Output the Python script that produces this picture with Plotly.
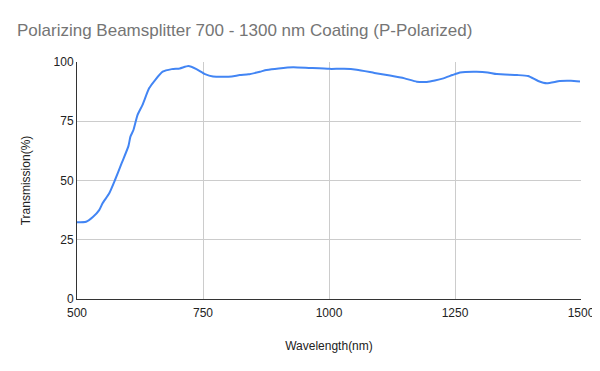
import plotly.graph_objects as go

wavelength = [500, 518, 532, 544, 551, 564, 575, 589, 602, 606, 612, 620, 630, 643, 655, 670, 688, 704, 721, 737, 754, 770, 790, 807, 823, 840, 863, 876, 900, 929, 960, 1001, 1030, 1055, 1090, 1121, 1150, 1174, 1194, 1210, 1227, 1245, 1260, 1293, 1315, 1333, 1373, 1395, 1415, 1432, 1458, 1480, 1498]
transmission = [32.4, 32.6, 34.7, 37.5, 40.5, 44.6, 50.0, 57.5, 64.5, 68.5, 71.3, 77.6, 81.9, 88.9, 92.4, 95.9, 97.0, 97.3, 98.3, 97.0, 94.9, 93.9, 93.8, 93.9, 94.5, 94.8, 95.9, 96.6, 97.3, 97.8, 97.5, 97.1, 97.1, 96.7, 95.4, 94.3, 93.1, 91.7, 91.6, 92.2, 93.1, 94.5, 95.6, 95.9, 95.6, 94.9, 94.5, 94.1, 92.0, 91.0, 92.0, 92.1, 91.8]

x_ticks = [500, 750, 1000, 1250, 1500]
y_ticks = [0, 25, 50, 75, 100]

fig = go.Figure()
fig.add_trace(go.Scatter(
    x=wavelength, y=transmission, mode="lines",
    line=dict(color="#4285F4", width=2, shape="spline", smoothing=0.5),
    showlegend=False, hoverinfo="x+y"))

# the page places the figure 8px in from the top-left corner, so the
# margins below already account for that offset
fig.update_layout(
    width=600, height=371,
    margin=dict(l=69, r=27, t=54, b=80),
    paper_bgcolor="white", plot_bgcolor="white",
    font=dict(family="Liberation Sans, Arial, sans-serif", color="#222222", size=12),
    title=dict(text="Polarizing Beamsplitter 700 - 1300 nm Coating (P-Polarized)",
               x=9/600, xanchor="left", y=1 - 22/371, yanchor="middle",
               font=dict(size=17, color="#757575")),
    xaxis=dict(range=[500, 1500], tickvals=x_ticks, ticktext=[str(v) for v in x_ticks],
               showgrid=True, gridcolor="#cccccc", gridwidth=1, automargin=False,
               showline=True, linecolor="#333333", linewidth=1, zeroline=False,
               ticks="", ticklabelstandoff=3, tickfont=dict(size=12, color="#222222"),
               title=dict(text="Wavelength(nm)", font=dict(size=12, color="#222222"), standoff=22)),
    yaxis=dict(range=[0, 100], tickvals=y_ticks, ticktext=[str(v) for v in y_ticks],
               showgrid=True, gridcolor="#cccccc", gridwidth=1, automargin=False,
               showline=True, linecolor="#333333", linewidth=1, zeroline=False,
               ticks="", tickfont=dict(size=12, color="#222222"),
               title=dict(text="Transmission(%)", font=dict(size=12, color="#222222"), standoff=20)),
)

fig.write_html("out.html")
